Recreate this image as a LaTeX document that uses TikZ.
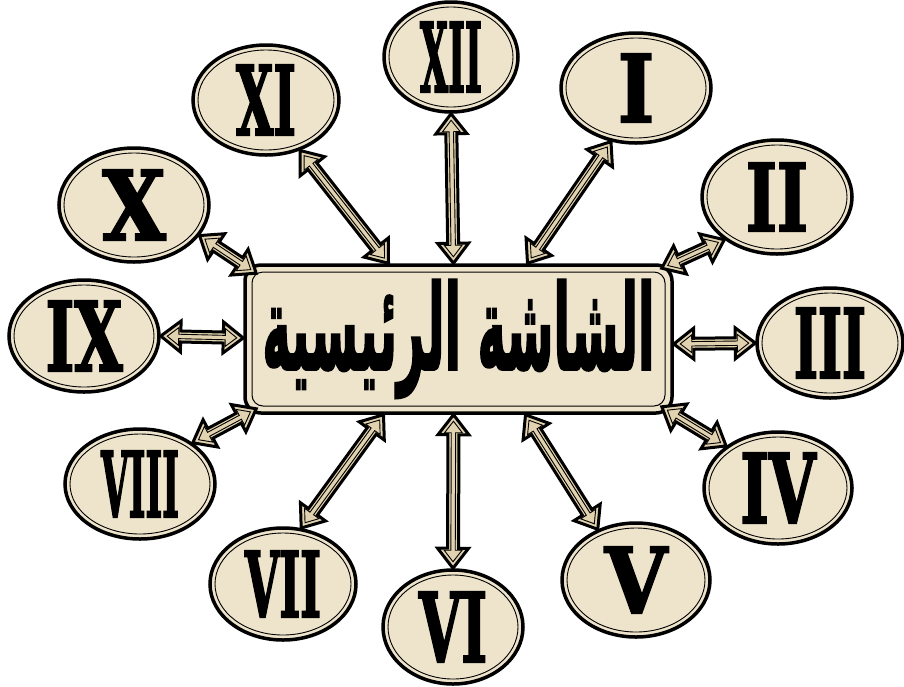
\documentclass[tikz,border=0pt]{standalone}
\usepackage{fontspec}
\usepackage{graphicx}
\usetikzlibrary{shapes.geometric,calc}
\TeXXeTstate=1
\newfontfamily\arabicfont[Script=Arabic,FakeBold=2.5]{DejaVu Sans}
\newfontfamily\romfont[FakeBold=2.5]{DejaVu Serif Condensed}
\definecolor{parch}{RGB}{238,228,203}
\definecolor{arrfill}{RGB}{226,211,176}
\newcommand\rom[3]{\resizebox{#1pt}{#2pt}{\romfont\bfseries #3}}
\newcommand\dblarr[2]{%
  \path let \p1=(#1), \p2=(#2) in \pgfextra{%
    \pgfmathsetmacro\arrLt{veclen(\x2-\x1,\y2-\y1)}%
    \pgfmathsetmacro\arrAt{atan2(\y2-\y1,\x2-\x1)}%
    \xdef\arrL{\arrLt}\xdef\arrA{\arrAt}%
    \xdef\arrX{\x1}\xdef\arrY{\y1}};
  \begin{scope}[shift={(\arrX,\arrY)}, rotate=\arrA, x=1pt, y=1pt]
    \draw[arrouter] (0,0) -- (20,15.5) -- (20,5.5) -- (\arrL-20,5.5) -- (\arrL-20,15.5)
      -- (\arrL,0) -- (\arrL-20,-15.5) -- (\arrL-20,-5.5) -- (20,-5.5) -- (20,-15.5) -- cycle;
    \draw[arrinner] (6.5,0) -- (18,8.9) -- (18,2.2) -- (\arrL-18,2.2) -- (\arrL-18,8.9)
      -- (\arrL-6.5,0) -- (\arrL-18,-8.9) -- (\arrL-18,-2.2) -- (18,-2.2) -- (18,-8.9) -- cycle;
  \end{scope}}
\tikzset{
  clock/.style={ellipse, draw=black, line width=3.5pt, fill=parch, inner sep=0pt,
    path picture={\draw[line width=0.9pt] let \p1=($(path picture bounding box.north east)-(path picture bounding box.center)$) in
      (path picture bounding box.center) ellipse [x radius=\x1-5pt, y radius=\y1-5pt];}},
  mainbox/.style={rectangle, rounded corners=16pt, draw=black, line width=3.5pt, fill=parch,
    minimum width=427pt, minimum height=148pt, inner sep=0pt,
    path picture={\draw[line width=1pt, rounded corners=11pt]
      ($(path picture bounding box.south west)+(7pt,7pt)$) rectangle
      ($(path picture bounding box.north east)-(7pt,7pt)$);}},
  arrouter/.style={draw=black, line width=3pt, fill=arrfill, line join=miter, miter limit=10},
  arrinner/.style={draw=black, line width=0.9pt, line join=miter}
}
\begin{document}
\begin{tikzpicture}[x=1pt, y=-1pt]
\useasboundingbox[fill=white] (0,0) rectangle (904,686);
\node[mainbox] (main) at (458.5,339) {\raisebox{0pt}{\resizebox*{392pt}{118pt}{\arabicfont\bfseries\beginR الشاشة الرئيسية\endR}}};
\node[clock, minimum width=134pt, minimum height=110pt] (xii) at (451,57) {\rom{62}{70}{XII}};
\node[clock, minimum width=150pt, minimum height=110pt] (i) at (636,88) {\rom{36}{68}{I}};
\node[clock, minimum width=150pt, minimum height=114pt] (ii) at (777,197) {\rom{62}{68}{II}};
\node[clock, minimum width=146pt, minimum height=110pt] (iii) at (830,343) {\rom{72}{70}{III}};
\node[clock, minimum width=148pt, minimum height=112pt] (iv) at (778,488) {\rom{75}{70}{IV}};
\node[clock, minimum width=148pt, minimum height=114pt] (v) at (636,580) {\rom{62}{66}{V}};
\node[clock, minimum width=140pt, minimum height=114pt] (vi) at (453,627) {\rom{68}{70}{VI}};
\node[clock, minimum width=146pt, minimum height=112pt] (vii) at (283,584) {\rom{76}{66}{VII}};
\node[clock, minimum width=150pt, minimum height=110pt] (viii) at (140,484) {\rom{78}{66}{VIII}};
\node[clock, minimum width=150pt, minimum height=112pt] (ix) at (84,336) {\rom{77}{70}{IX}};
\node[clock, minimum width=150pt, minimum height=114pt] (x) at (134,205) {\rom{63}{70}{X}};
\node[clock, minimum width=146pt, minimum height=110pt] (xi) at (266,100) {\rom{60}{70}{XI}};
\dblarr{xii.south}{$(main.north)+(-5,0)$}
\dblarr{i.245}{$(main.north)+(69,0)$}
\dblarr{ii.219}{$(main.north east)+(-12,5)$}
\dblarr{iii.180}{$(main.east)+(0,5)$}
\dblarr{iv.141}{$(main.south east)+(-12,-8)$}
\dblarr{v.127}{$(main.south)+(67,0)$}
\dblarr{vi.north}{$(main.south)+(-5,0)$}
\dblarr{vii.72}{$(main.south)+(-75,0)$}
\dblarr{viii.38}{$(main.south west)+(13,-6)$}
\dblarr{ix.east}{$(main.west)+(0,-1)$}
\dblarr{x.335}{$(main.north west)+(13,10)$}
\dblarr{xi.304}{$(main.north)+(-70,0)$}
\end{tikzpicture}
\end{document}
